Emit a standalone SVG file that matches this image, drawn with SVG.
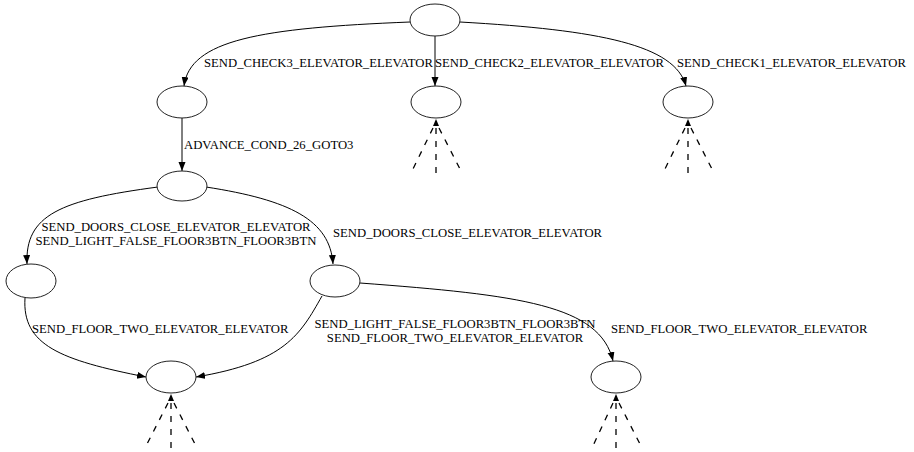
<svg xmlns="http://www.w3.org/2000/svg" width="914" height="452" viewBox="0 0 914 452">
<style>
.n{fill:#fff;stroke:#222;stroke-width:1}
.e{fill:none;stroke:#000;stroke-width:1}
.d{fill:none;stroke:#000;stroke-width:1.3;stroke-dasharray:6,7}
.m{text-anchor:middle}
</style>
<defs>
<marker id="ah" markerUnits="userSpaceOnUse" markerWidth="10" markerHeight="8" refX="9" refY="3.5" orient="auto">
<path d="M0,0 L9,3.5 L0,7 z" fill="#000"/>
</marker>
</defs>
<rect width="914" height="452" fill="#fff"/>
<g id="connectors">
<path class="e" d="M410,22 C260,28 190,40 184,86" marker-end="url(#ah)"/>
<path class="e" d="M435,36 L435,86" marker-end="url(#ah)"/>
<path class="e" d="M460,22 C600,30 675,45 686,86" marker-end="url(#ah)"/>
<path class="e" d="M182,118 L182,171" marker-end="url(#ah)"/>
<path class="e" d="M158,187 C60,200 25,215 27,264" marker-end="url(#ah)"/>
<path class="e" d="M206,187 C290,200 330,220 333,264" marker-end="url(#ah)"/>
<path class="e" d="M25,298 C22,345 60,360 146,377" marker-end="url(#ah)"/>
<path class="e" d="M322,296 C300,335 285,362 196,377" marker-end="url(#ah)"/>
<path class="e" d="M360,283 C520,295 600,305 613,361" marker-end="url(#ah)"/>
<g id="stubB">
<path d="M436,119 L433,126 L439,126 z" fill="#000"/>
<path class="d" d="M433,128 L411,173 M436,128 L436,173 M439,128 L462,173"/>
</g>
<g id="stubC">
<path d="M688,119 L685,126 L691,126 z" fill="#000"/>
<path class="d" d="M685,128 L663,173 M688,128 L688,173 M691,128 L714,173"/>
</g>
<g id="stubG">
<path d="M171,394 L168,401 L174,401 z" fill="#000"/>
<path class="d" d="M168,403 L145,448 M171,403 L171,448 M174,403 L197,448"/>
</g>
<g id="stubH">
<path d="M616,394 L613,401 L619,401 z" fill="#000"/>
<path class="d" d="M613,403 L592,448 M616,403 L616,448 M619,403 L642,448"/>
</g>
<g font-family="Liberation Serif, Times New Roman, serif" font-size="12.7" fill="#000">
<text x="204" y="67">SEND_CHECK3_ELEVATOR_ELEVATOR</text>
<text x="435" y="67">SEND_CHECK2_ELEVATOR_ELEVATOR</text>
<text x="677" y="67">SEND_CHECK1_ELEVATOR_ELEVATOR</text>
<text x="184" y="149">ADVANCE_COND_26_GOTO3</text>
<text class="m" x="176" y="231">SEND_DOORS_CLOSE_ELEVATOR_ELEVATOR</text>
<text class="m" x="176" y="245">SEND_LIGHT_FALSE_FLOOR3BTN_FLOOR3BTN</text>
<text x="333" y="237">SEND_DOORS_CLOSE_ELEVATOR_ELEVATOR</text>
<text x="32" y="333">SEND_FLOOR_TWO_ELEVATOR_ELEVATOR</text>
<text class="m" x="455" y="328">SEND_LIGHT_FALSE_FLOOR3BTN_FLOOR3BTN</text>
<text class="m" x="455" y="342">SEND_FLOOR_TWO_ELEVATOR_ELEVATOR</text>
<text x="611" y="333">SEND_FLOOR_TWO_ELEVATOR_ELEVATOR</text>
</g>
</g>
<g id="nT"><ellipse class="n" cx="435" cy="20" rx="25" ry="16"/></g>
<g id="nA"><ellipse class="n" cx="182" cy="102" rx="25" ry="16"/></g>
<g id="nB"><ellipse class="n" cx="436" cy="102" rx="25" ry="16"/></g>
<g id="nC"><ellipse class="n" cx="688" cy="102" rx="25" ry="16"/></g>
<g id="nD"><ellipse class="n" cx="182" cy="186" rx="25" ry="15"/></g>
<g id="nE"><ellipse class="n" cx="31" cy="281" rx="25" ry="17"/></g>
<g id="nF"><ellipse class="n" cx="335" cy="281" rx="25" ry="16"/></g>
<g id="nG"><ellipse class="n" cx="171" cy="377" rx="25" ry="16"/></g>
<g id="nH"><ellipse class="n" cx="616" cy="377" rx="25" ry="16"/></g>
</svg>
